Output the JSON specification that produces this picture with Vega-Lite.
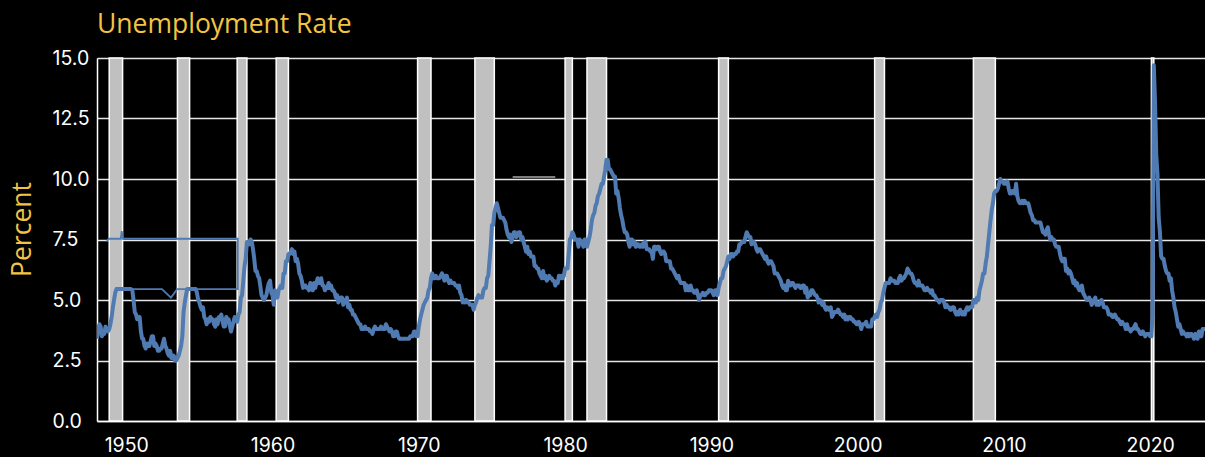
{
  "$schema": "https://vega.github.io/schema/vega-lite/v6.json",
  "width": 1108,
  "height": 363,
  "autosize": {"type": "none"},
  "padding": {"left": 97, "top": 58, "right": 0, "bottom": 36},
  "background": "#000000",
  "config": {"view": {"stroke": null}},
  "title": {"text": "Unemployment Rate", "anchor": "start", "frame": "group", "color": "#f3c443", "font": "Open Sans", "fontSize": 26.5, "fontWeight": "normal", "baseline": "alphabetic", "offset": 29, "dy": 40},
  "datasets": {
    "rec": [
      {"s": "1948-11-01", "e": "1949-10-01"},
      {"s": "1953-07-01", "e": "1954-05-01"},
      {"s": "1957-08-01", "e": "1958-04-01"},
      {"s": "1960-04-01", "e": "1961-02-01"},
      {"s": "1969-12-01", "e": "1970-11-01"},
      {"s": "1973-11-01", "e": "1975-03-01"},
      {"s": "1980-01-01", "e": "1980-07-01"},
      {"s": "1981-07-01", "e": "1982-11-01"},
      {"s": "1990-07-01", "e": "1991-03-01"},
      {"s": "2001-03-01", "e": "2001-11-01"},
      {"s": "2007-12-01", "e": "2009-06-01"},
      {"s": "2020-02-01", "e": "2020-04-01"}
    ],
    "thin": [
      {"i": 0, "d": "1948-09-10", "v": 7.42},
      {"i": 1, "d": "1948-10-15", "v": 7.53},
      {"i": 2, "d": "1949-08-15", "v": 7.53},
      {"i": 3, "d": "1949-09-10", "v": 7.85},
      {"i": 4, "d": "1949-10-05", "v": 7.53},
      {"i": 5, "d": "1957-08-15", "v": 7.53},
      {"i": 6, "d": "1957-08-16", "v": 5.45},
      {"i": 7, "d": "1953-06-25", "v": 5.45},
      {"i": 8, "d": "1953-01-20", "v": 5.1},
      {"i": 9, "d": "1952-06-10", "v": 5.45},
      {"i": 10, "d": "1949-04-01", "v": 5.45}
    ],
    "seg": [
      {"s": "1976-06-01", "e": "1979-05-01", "v": 10.08}
    ],
    "u": [
{"t":"1948-01","u":3.4},{"t":"1948-02","u":3.8},{"t":"1948-03","u":4.0},{"t":"1948-04","u":3.9},{"t":"1948-05","u":3.5},{"t":"1948-06","u":3.6},{"t":"1948-07","u":3.6},{"t":"1948-08","u":3.9},{"t":"1948-09","u":3.8},{"t":"1948-10","u":3.7},{"t":"1948-11","u":3.8},{"t":"1948-12","u":4.0},
{"t":"1949-01","u":4.3},{"t":"1949-02","u":4.7},{"t":"1949-03","u":5.0},{"t":"1949-04","u":5.3},{"t":"1949-05","u":5.45},{"t":"1949-06","u":5.45},{"t":"1949-07","u":5.45},{"t":"1949-08","u":5.45},{"t":"1949-09","u":5.45},{"t":"1949-10","u":5.45},{"t":"1949-11","u":5.45},{"t":"1949-12","u":5.45},
{"t":"1950-01","u":5.45},{"t":"1950-02","u":5.45},{"t":"1950-03","u":5.45},{"t":"1950-04","u":5.45},{"t":"1950-05","u":5.45},{"t":"1950-06","u":5.4},{"t":"1950-07","u":5.0},{"t":"1950-08","u":4.5},{"t":"1950-09","u":4.4},{"t":"1950-10","u":4.2},{"t":"1950-11","u":4.2},{"t":"1950-12","u":4.3},
{"t":"1951-01","u":3.7},{"t":"1951-02","u":3.4},{"t":"1951-03","u":3.4},{"t":"1951-04","u":3.1},{"t":"1951-05","u":3.0},{"t":"1951-06","u":3.2},{"t":"1951-07","u":3.1},{"t":"1951-08","u":3.1},{"t":"1951-09","u":3.3},{"t":"1951-10","u":3.5},{"t":"1951-11","u":3.5},{"t":"1951-12","u":3.1},
{"t":"1952-01","u":3.2},{"t":"1952-02","u":3.1},{"t":"1952-03","u":2.9},{"t":"1952-04","u":2.9},{"t":"1952-05","u":3.0},{"t":"1952-06","u":3.0},{"t":"1952-07","u":3.2},{"t":"1952-08","u":3.4},{"t":"1952-09","u":3.1},{"t":"1952-10","u":3.0},{"t":"1952-11","u":2.8},{"t":"1952-12","u":2.7},
{"t":"1953-01","u":2.9},{"t":"1953-02","u":2.6},{"t":"1953-03","u":2.6},{"t":"1953-04","u":2.7},{"t":"1953-05","u":2.5},{"t":"1953-06","u":2.5},{"t":"1953-07","u":2.6},{"t":"1953-08","u":2.7},{"t":"1953-09","u":2.9},{"t":"1953-10","u":3.1},{"t":"1953-11","u":3.5},{"t":"1953-12","u":4.5},
{"t":"1954-01","u":4.9},{"t":"1954-02","u":5.2},{"t":"1954-03","u":5.45},{"t":"1954-04","u":5.45},{"t":"1954-05","u":5.45},{"t":"1954-06","u":5.45},{"t":"1954-07","u":5.45},{"t":"1954-08","u":5.45},{"t":"1954-09","u":5.45},{"t":"1954-10","u":5.45},{"t":"1954-11","u":5.3},{"t":"1954-12","u":5.0},
{"t":"1955-01","u":4.9},{"t":"1955-02","u":4.7},{"t":"1955-03","u":4.6},{"t":"1955-04","u":4.7},{"t":"1955-05","u":4.3},{"t":"1955-06","u":4.2},{"t":"1955-07","u":4.0},{"t":"1955-08","u":4.2},{"t":"1955-09","u":4.1},{"t":"1955-10","u":4.3},{"t":"1955-11","u":4.2},{"t":"1955-12","u":4.2},
{"t":"1956-01","u":4.0},{"t":"1956-02","u":3.9},{"t":"1956-03","u":4.2},{"t":"1956-04","u":4.0},{"t":"1956-05","u":4.3},{"t":"1956-06","u":4.3},{"t":"1956-07","u":4.4},{"t":"1956-08","u":4.1},{"t":"1956-09","u":3.9},{"t":"1956-10","u":3.9},{"t":"1956-11","u":4.3},{"t":"1956-12","u":4.2},
{"t":"1957-01","u":4.2},{"t":"1957-02","u":3.9},{"t":"1957-03","u":3.7},{"t":"1957-04","u":3.9},{"t":"1957-05","u":4.1},{"t":"1957-06","u":4.3},{"t":"1957-07","u":4.2},{"t":"1957-08","u":4.1},{"t":"1957-09","u":4.4},{"t":"1957-10","u":4.5},{"t":"1957-11","u":5.1},{"t":"1957-12","u":5.2},
{"t":"1958-01","u":5.8},{"t":"1958-02","u":6.4},{"t":"1958-03","u":6.7},{"t":"1958-04","u":7.4},{"t":"1958-05","u":7.4},{"t":"1958-06","u":7.3},{"t":"1958-07","u":7.5},{"t":"1958-08","u":7.4},{"t":"1958-09","u":7.1},{"t":"1958-10","u":6.7},{"t":"1958-11","u":6.2},{"t":"1958-12","u":6.2},
{"t":"1959-01","u":6.0},{"t":"1959-02","u":5.9},{"t":"1959-03","u":5.6},{"t":"1959-04","u":5.2},{"t":"1959-05","u":5.1},{"t":"1959-06","u":5.0},{"t":"1959-07","u":5.1},{"t":"1959-08","u":5.2},{"t":"1959-09","u":5.5},{"t":"1959-10","u":5.7},{"t":"1959-11","u":5.8},{"t":"1959-12","u":5.3},
{"t":"1960-01","u":5.2},{"t":"1960-02","u":4.8},{"t":"1960-03","u":5.4},{"t":"1960-04","u":5.2},{"t":"1960-05","u":5.1},{"t":"1960-06","u":5.4},{"t":"1960-07","u":5.5},{"t":"1960-08","u":5.6},{"t":"1960-09","u":5.5},{"t":"1960-10","u":6.1},{"t":"1960-11","u":6.1},{"t":"1960-12","u":6.6},
{"t":"1961-01","u":6.6},{"t":"1961-02","u":6.9},{"t":"1961-03","u":6.9},{"t":"1961-04","u":7.0},{"t":"1961-05","u":7.1},{"t":"1961-06","u":6.9},{"t":"1961-07","u":7.0},{"t":"1961-08","u":6.6},{"t":"1961-09","u":6.7},{"t":"1961-10","u":6.5},{"t":"1961-11","u":6.1},{"t":"1961-12","u":6.0},
{"t":"1962-01","u":5.8},{"t":"1962-02","u":5.5},{"t":"1962-03","u":5.6},{"t":"1962-04","u":5.6},{"t":"1962-05","u":5.5},{"t":"1962-06","u":5.5},{"t":"1962-07","u":5.4},{"t":"1962-08","u":5.7},{"t":"1962-09","u":5.6},{"t":"1962-10","u":5.4},{"t":"1962-11","u":5.7},{"t":"1962-12","u":5.5},
{"t":"1963-01","u":5.7},{"t":"1963-02","u":5.9},{"t":"1963-03","u":5.7},{"t":"1963-04","u":5.7},{"t":"1963-05","u":5.9},{"t":"1963-06","u":5.6},{"t":"1963-07","u":5.6},{"t":"1963-08","u":5.4},{"t":"1963-09","u":5.5},{"t":"1963-10","u":5.5},{"t":"1963-11","u":5.7},{"t":"1963-12","u":5.5},
{"t":"1964-01","u":5.6},{"t":"1964-02","u":5.4},{"t":"1964-03","u":5.4},{"t":"1964-04","u":5.3},{"t":"1964-05","u":5.1},{"t":"1964-06","u":5.2},{"t":"1964-07","u":4.9},{"t":"1964-08","u":5.0},{"t":"1964-09","u":5.1},{"t":"1964-10","u":5.1},{"t":"1964-11","u":4.8},{"t":"1964-12","u":5.0},
{"t":"1965-01","u":4.9},{"t":"1965-02","u":5.1},{"t":"1965-03","u":4.7},{"t":"1965-04","u":4.8},{"t":"1965-05","u":4.6},{"t":"1965-06","u":4.6},{"t":"1965-07","u":4.4},{"t":"1965-08","u":4.4},{"t":"1965-09","u":4.3},{"t":"1965-10","u":4.2},{"t":"1965-11","u":4.1},{"t":"1965-12","u":4.0},
{"t":"1966-01","u":4.0},{"t":"1966-02","u":3.8},{"t":"1966-03","u":3.8},{"t":"1966-04","u":3.8},{"t":"1966-05","u":3.9},{"t":"1966-06","u":3.8},{"t":"1966-07","u":3.8},{"t":"1966-08","u":3.8},{"t":"1966-09","u":3.7},{"t":"1966-10","u":3.7},{"t":"1966-11","u":3.6},{"t":"1966-12","u":3.8},
{"t":"1967-01","u":3.9},{"t":"1967-02","u":3.8},{"t":"1967-03","u":3.8},{"t":"1967-04","u":3.8},{"t":"1967-05","u":3.8},{"t":"1967-06","u":3.9},{"t":"1967-07","u":3.8},{"t":"1967-08","u":3.8},{"t":"1967-09","u":3.8},{"t":"1967-10","u":4.0},{"t":"1967-11","u":3.9},{"t":"1967-12","u":3.8},
{"t":"1968-01","u":3.7},{"t":"1968-02","u":3.8},{"t":"1968-03","u":3.7},{"t":"1968-04","u":3.5},{"t":"1968-05","u":3.5},{"t":"1968-06","u":3.7},{"t":"1968-07","u":3.7},{"t":"1968-08","u":3.5},{"t":"1968-09","u":3.4},{"t":"1968-10","u":3.4},{"t":"1968-11","u":3.4},{"t":"1968-12","u":3.4},
{"t":"1969-01","u":3.4},{"t":"1969-02","u":3.4},{"t":"1969-03","u":3.4},{"t":"1969-04","u":3.4},{"t":"1969-05","u":3.4},{"t":"1969-06","u":3.5},{"t":"1969-07","u":3.5},{"t":"1969-08","u":3.5},{"t":"1969-09","u":3.7},{"t":"1969-10","u":3.7},{"t":"1969-11","u":3.5},{"t":"1969-12","u":3.5},
{"t":"1970-01","u":3.9},{"t":"1970-02","u":4.2},{"t":"1970-03","u":4.4},{"t":"1970-04","u":4.6},{"t":"1970-05","u":4.8},{"t":"1970-06","u":4.9},{"t":"1970-07","u":5.0},{"t":"1970-08","u":5.1},{"t":"1970-09","u":5.4},{"t":"1970-10","u":5.5},{"t":"1970-11","u":5.9},{"t":"1970-12","u":6.1},
{"t":"1971-01","u":5.9},{"t":"1971-02","u":5.9},{"t":"1971-03","u":6.0},{"t":"1971-04","u":5.9},{"t":"1971-05","u":5.9},{"t":"1971-06","u":5.9},{"t":"1971-07","u":6.0},{"t":"1971-08","u":6.1},{"t":"1971-09","u":6.0},{"t":"1971-10","u":5.8},{"t":"1971-11","u":6.0},{"t":"1971-12","u":6.0},
{"t":"1972-01","u":5.8},{"t":"1972-02","u":5.7},{"t":"1972-03","u":5.8},{"t":"1972-04","u":5.7},{"t":"1972-05","u":5.7},{"t":"1972-06","u":5.7},{"t":"1972-07","u":5.6},{"t":"1972-08","u":5.6},{"t":"1972-09","u":5.5},{"t":"1972-10","u":5.6},{"t":"1972-11","u":5.3},{"t":"1972-12","u":5.2},
{"t":"1973-01","u":4.9},{"t":"1973-02","u":5.0},{"t":"1973-03","u":4.9},{"t":"1973-04","u":5.0},{"t":"1973-05","u":4.9},{"t":"1973-06","u":4.9},{"t":"1973-07","u":4.8},{"t":"1973-08","u":4.8},{"t":"1973-09","u":4.8},{"t":"1973-10","u":4.6},{"t":"1973-11","u":4.8},{"t":"1973-12","u":4.9},
{"t":"1974-01","u":5.1},{"t":"1974-02","u":5.2},{"t":"1974-03","u":5.1},{"t":"1974-04","u":5.1},{"t":"1974-05","u":5.1},{"t":"1974-06","u":5.4},{"t":"1974-07","u":5.5},{"t":"1974-08","u":5.5},{"t":"1974-09","u":5.9},{"t":"1974-10","u":6.0},{"t":"1974-11","u":6.6},{"t":"1974-12","u":7.2},
{"t":"1975-01","u":8.1},{"t":"1975-02","u":8.1},{"t":"1975-03","u":8.6},{"t":"1975-04","u":8.8},{"t":"1975-05","u":9.0},{"t":"1975-06","u":8.8},{"t":"1975-07","u":8.6},{"t":"1975-08","u":8.4},{"t":"1975-09","u":8.4},{"t":"1975-10","u":8.4},{"t":"1975-11","u":8.3},{"t":"1975-12","u":8.2},
{"t":"1976-01","u":7.9},{"t":"1976-02","u":7.7},{"t":"1976-03","u":7.6},{"t":"1976-04","u":7.7},{"t":"1976-05","u":7.4},{"t":"1976-06","u":7.6},{"t":"1976-07","u":7.8},{"t":"1976-08","u":7.8},{"t":"1976-09","u":7.6},{"t":"1976-10","u":7.7},{"t":"1976-11","u":7.8},{"t":"1976-12","u":7.8},
{"t":"1977-01","u":7.5},{"t":"1977-02","u":7.6},{"t":"1977-03","u":7.4},{"t":"1977-04","u":7.2},{"t":"1977-05","u":7.0},{"t":"1977-06","u":7.2},{"t":"1977-07","u":6.9},{"t":"1977-08","u":7.0},{"t":"1977-09","u":6.8},{"t":"1977-10","u":6.8},{"t":"1977-11","u":6.8},{"t":"1977-12","u":6.4},
{"t":"1978-01","u":6.4},{"t":"1978-02","u":6.3},{"t":"1978-03","u":6.3},{"t":"1978-04","u":6.1},{"t":"1978-05","u":6.0},{"t":"1978-06","u":5.9},{"t":"1978-07","u":6.2},{"t":"1978-08","u":5.9},{"t":"1978-09","u":6.0},{"t":"1978-10","u":5.8},{"t":"1978-11","u":5.9},{"t":"1978-12","u":6.0},
{"t":"1979-01","u":5.9},{"t":"1979-02","u":5.9},{"t":"1979-03","u":5.8},{"t":"1979-04","u":5.8},{"t":"1979-05","u":5.6},{"t":"1979-06","u":5.7},{"t":"1979-07","u":5.7},{"t":"1979-08","u":6.0},{"t":"1979-09","u":5.9},{"t":"1979-10","u":6.0},{"t":"1979-11","u":5.9},{"t":"1979-12","u":6.0},
{"t":"1980-01","u":6.3},{"t":"1980-02","u":6.3},{"t":"1980-03","u":6.3},{"t":"1980-04","u":6.9},{"t":"1980-05","u":7.5},{"t":"1980-06","u":7.6},{"t":"1980-07","u":7.8},{"t":"1980-08","u":7.7},{"t":"1980-09","u":7.5},{"t":"1980-10","u":7.5},{"t":"1980-11","u":7.5},{"t":"1980-12","u":7.2},
{"t":"1981-01","u":7.5},{"t":"1981-02","u":7.4},{"t":"1981-03","u":7.4},{"t":"1981-04","u":7.2},{"t":"1981-05","u":7.5},{"t":"1981-06","u":7.5},{"t":"1981-07","u":7.2},{"t":"1981-08","u":7.4},{"t":"1981-09","u":7.6},{"t":"1981-10","u":7.9},{"t":"1981-11","u":8.3},{"t":"1981-12","u":8.5},
{"t":"1982-01","u":8.6},{"t":"1982-02","u":8.9},{"t":"1982-03","u":9.0},{"t":"1982-04","u":9.3},{"t":"1982-05","u":9.4},{"t":"1982-06","u":9.6},{"t":"1982-07","u":9.8},{"t":"1982-08","u":9.8},{"t":"1982-09","u":10.1},{"t":"1982-10","u":10.4},{"t":"1982-11","u":10.8},{"t":"1982-12","u":10.8},
{"t":"1983-01","u":10.4},{"t":"1983-02","u":10.4},{"t":"1983-03","u":10.3},{"t":"1983-04","u":10.2},{"t":"1983-05","u":10.1},{"t":"1983-06","u":10.1},{"t":"1983-07","u":9.4},{"t":"1983-08","u":9.5},{"t":"1983-09","u":9.2},{"t":"1983-10","u":8.8},{"t":"1983-11","u":8.5},{"t":"1983-12","u":8.3},
{"t":"1984-01","u":8.0},{"t":"1984-02","u":7.8},{"t":"1984-03","u":7.8},{"t":"1984-04","u":7.7},{"t":"1984-05","u":7.4},{"t":"1984-06","u":7.2},{"t":"1984-07","u":7.5},{"t":"1984-08","u":7.5},{"t":"1984-09","u":7.3},{"t":"1984-10","u":7.4},{"t":"1984-11","u":7.2},{"t":"1984-12","u":7.3},
{"t":"1985-01","u":7.3},{"t":"1985-02","u":7.2},{"t":"1985-03","u":7.2},{"t":"1985-04","u":7.3},{"t":"1985-05","u":7.2},{"t":"1985-06","u":7.4},{"t":"1985-07","u":7.4},{"t":"1985-08","u":7.1},{"t":"1985-09","u":7.1},{"t":"1985-10","u":7.1},{"t":"1985-11","u":7.0},{"t":"1985-12","u":7.0},
{"t":"1986-01","u":6.7},{"t":"1986-02","u":7.2},{"t":"1986-03","u":7.2},{"t":"1986-04","u":7.1},{"t":"1986-05","u":7.2},{"t":"1986-06","u":7.2},{"t":"1986-07","u":7.0},{"t":"1986-08","u":6.9},{"t":"1986-09","u":7.0},{"t":"1986-10","u":7.0},{"t":"1986-11","u":6.9},{"t":"1986-12","u":6.6},
{"t":"1987-01","u":6.6},{"t":"1987-02","u":6.6},{"t":"1987-03","u":6.6},{"t":"1987-04","u":6.3},{"t":"1987-05","u":6.3},{"t":"1987-06","u":6.2},{"t":"1987-07","u":6.1},{"t":"1987-08","u":6.0},{"t":"1987-09","u":5.9},{"t":"1987-10","u":6.0},{"t":"1987-11","u":5.8},{"t":"1987-12","u":5.7},
{"t":"1988-01","u":5.7},{"t":"1988-02","u":5.7},{"t":"1988-03","u":5.7},{"t":"1988-04","u":5.4},{"t":"1988-05","u":5.6},{"t":"1988-06","u":5.4},{"t":"1988-07","u":5.4},{"t":"1988-08","u":5.6},{"t":"1988-09","u":5.4},{"t":"1988-10","u":5.4},{"t":"1988-11","u":5.3},{"t":"1988-12","u":5.3},
{"t":"1989-01","u":5.4},{"t":"1989-02","u":5.2},{"t":"1989-03","u":5.0},{"t":"1989-04","u":5.2},{"t":"1989-05","u":5.2},{"t":"1989-06","u":5.3},{"t":"1989-07","u":5.2},{"t":"1989-08","u":5.2},{"t":"1989-09","u":5.3},{"t":"1989-10","u":5.3},{"t":"1989-11","u":5.4},{"t":"1989-12","u":5.4},
{"t":"1990-01","u":5.4},{"t":"1990-02","u":5.3},{"t":"1990-03","u":5.2},{"t":"1990-04","u":5.4},{"t":"1990-05","u":5.4},{"t":"1990-06","u":5.2},{"t":"1990-07","u":5.5},{"t":"1990-08","u":5.7},{"t":"1990-09","u":5.9},{"t":"1990-10","u":5.9},{"t":"1990-11","u":6.2},{"t":"1990-12","u":6.3},
{"t":"1991-01","u":6.4},{"t":"1991-02","u":6.6},{"t":"1991-03","u":6.8},{"t":"1991-04","u":6.7},{"t":"1991-05","u":6.9},{"t":"1991-06","u":6.9},{"t":"1991-07","u":6.8},{"t":"1991-08","u":6.9},{"t":"1991-09","u":6.9},{"t":"1991-10","u":7.0},{"t":"1991-11","u":7.0},{"t":"1991-12","u":7.3},
{"t":"1992-01","u":7.3},{"t":"1992-02","u":7.4},{"t":"1992-03","u":7.4},{"t":"1992-04","u":7.4},{"t":"1992-05","u":7.6},{"t":"1992-06","u":7.8},{"t":"1992-07","u":7.7},{"t":"1992-08","u":7.6},{"t":"1992-09","u":7.6},{"t":"1992-10","u":7.3},{"t":"1992-11","u":7.4},{"t":"1992-12","u":7.4},
{"t":"1993-01","u":7.3},{"t":"1993-02","u":7.1},{"t":"1993-03","u":7.0},{"t":"1993-04","u":7.1},{"t":"1993-05","u":7.1},{"t":"1993-06","u":7.0},{"t":"1993-07","u":6.9},{"t":"1993-08","u":6.8},{"t":"1993-09","u":6.7},{"t":"1993-10","u":6.8},{"t":"1993-11","u":6.6},{"t":"1993-12","u":6.5},
{"t":"1994-01","u":6.6},{"t":"1994-02","u":6.6},{"t":"1994-03","u":6.5},{"t":"1994-04","u":6.4},{"t":"1994-05","u":6.1},{"t":"1994-06","u":6.1},{"t":"1994-07","u":6.1},{"t":"1994-08","u":6.0},{"t":"1994-09","u":5.9},{"t":"1994-10","u":5.8},{"t":"1994-11","u":5.6},{"t":"1994-12","u":5.5},
{"t":"1995-01","u":5.6},{"t":"1995-02","u":5.4},{"t":"1995-03","u":5.4},{"t":"1995-04","u":5.8},{"t":"1995-05","u":5.6},{"t":"1995-06","u":5.6},{"t":"1995-07","u":5.7},{"t":"1995-08","u":5.7},{"t":"1995-09","u":5.6},{"t":"1995-10","u":5.5},{"t":"1995-11","u":5.6},{"t":"1995-12","u":5.6},
{"t":"1996-01","u":5.6},{"t":"1996-02","u":5.5},{"t":"1996-03","u":5.5},{"t":"1996-04","u":5.6},{"t":"1996-05","u":5.6},{"t":"1996-06","u":5.3},{"t":"1996-07","u":5.5},{"t":"1996-08","u":5.1},{"t":"1996-09","u":5.2},{"t":"1996-10","u":5.2},{"t":"1996-11","u":5.4},{"t":"1996-12","u":5.4},
{"t":"1997-01","u":5.3},{"t":"1997-02","u":5.2},{"t":"1997-03","u":5.2},{"t":"1997-04","u":5.1},{"t":"1997-05","u":4.9},{"t":"1997-06","u":5.0},{"t":"1997-07","u":4.9},{"t":"1997-08","u":4.8},{"t":"1997-09","u":4.9},{"t":"1997-10","u":4.7},{"t":"1997-11","u":4.6},{"t":"1997-12","u":4.7},
{"t":"1998-01","u":4.6},{"t":"1998-02","u":4.6},{"t":"1998-03","u":4.7},{"t":"1998-04","u":4.3},{"t":"1998-05","u":4.4},{"t":"1998-06","u":4.5},{"t":"1998-07","u":4.5},{"t":"1998-08","u":4.5},{"t":"1998-09","u":4.6},{"t":"1998-10","u":4.5},{"t":"1998-11","u":4.4},{"t":"1998-12","u":4.4},
{"t":"1999-01","u":4.3},{"t":"1999-02","u":4.4},{"t":"1999-03","u":4.2},{"t":"1999-04","u":4.3},{"t":"1999-05","u":4.2},{"t":"1999-06","u":4.3},{"t":"1999-07","u":4.3},{"t":"1999-08","u":4.2},{"t":"1999-09","u":4.2},{"t":"1999-10","u":4.1},{"t":"1999-11","u":4.1},{"t":"1999-12","u":4.0},
{"t":"2000-01","u":4.0},{"t":"2000-02","u":4.1},{"t":"2000-03","u":4.0},{"t":"2000-04","u":3.8},{"t":"2000-05","u":4.0},{"t":"2000-06","u":4.0},{"t":"2000-07","u":4.0},{"t":"2000-08","u":4.1},{"t":"2000-09","u":3.9},{"t":"2000-10","u":3.9},{"t":"2000-11","u":3.9},{"t":"2000-12","u":3.9},
{"t":"2001-01","u":4.2},{"t":"2001-02","u":4.2},{"t":"2001-03","u":4.3},{"t":"2001-04","u":4.4},{"t":"2001-05","u":4.3},{"t":"2001-06","u":4.5},{"t":"2001-07","u":4.6},{"t":"2001-08","u":4.9},{"t":"2001-09","u":5.0},{"t":"2001-10","u":5.3},{"t":"2001-11","u":5.5},{"t":"2001-12","u":5.7},
{"t":"2002-01","u":5.7},{"t":"2002-02","u":5.7},{"t":"2002-03","u":5.7},{"t":"2002-04","u":5.9},{"t":"2002-05","u":5.8},{"t":"2002-06","u":5.8},{"t":"2002-07","u":5.8},{"t":"2002-08","u":5.7},{"t":"2002-09","u":5.7},{"t":"2002-10","u":5.7},{"t":"2002-11","u":5.9},{"t":"2002-12","u":6.0},
{"t":"2003-01","u":5.8},{"t":"2003-02","u":5.9},{"t":"2003-03","u":5.9},{"t":"2003-04","u":6.0},{"t":"2003-05","u":6.1},{"t":"2003-06","u":6.3},{"t":"2003-07","u":6.2},{"t":"2003-08","u":6.1},{"t":"2003-09","u":6.1},{"t":"2003-10","u":6.0},{"t":"2003-11","u":5.8},{"t":"2003-12","u":5.7},
{"t":"2004-01","u":5.7},{"t":"2004-02","u":5.6},{"t":"2004-03","u":5.8},{"t":"2004-04","u":5.6},{"t":"2004-05","u":5.6},{"t":"2004-06","u":5.6},{"t":"2004-07","u":5.5},{"t":"2004-08","u":5.4},{"t":"2004-09","u":5.4},{"t":"2004-10","u":5.5},{"t":"2004-11","u":5.4},{"t":"2004-12","u":5.4},
{"t":"2005-01","u":5.3},{"t":"2005-02","u":5.4},{"t":"2005-03","u":5.2},{"t":"2005-04","u":5.2},{"t":"2005-05","u":5.1},{"t":"2005-06","u":5.0},{"t":"2005-07","u":5.0},{"t":"2005-08","u":4.9},{"t":"2005-09","u":5.0},{"t":"2005-10","u":5.0},{"t":"2005-11","u":5.0},{"t":"2005-12","u":4.9},
{"t":"2006-01","u":4.7},{"t":"2006-02","u":4.8},{"t":"2006-03","u":4.7},{"t":"2006-04","u":4.7},{"t":"2006-05","u":4.6},{"t":"2006-06","u":4.6},{"t":"2006-07","u":4.7},{"t":"2006-08","u":4.7},{"t":"2006-09","u":4.5},{"t":"2006-10","u":4.4},{"t":"2006-11","u":4.5},{"t":"2006-12","u":4.4},
{"t":"2007-01","u":4.6},{"t":"2007-02","u":4.5},{"t":"2007-03","u":4.4},{"t":"2007-04","u":4.5},{"t":"2007-05","u":4.4},{"t":"2007-06","u":4.6},{"t":"2007-07","u":4.7},{"t":"2007-08","u":4.6},{"t":"2007-09","u":4.7},{"t":"2007-10","u":4.7},{"t":"2007-11","u":4.7},{"t":"2007-12","u":5.0},
{"t":"2008-01","u":5.0},{"t":"2008-02","u":4.9},{"t":"2008-03","u":5.1},{"t":"2008-04","u":5.0},{"t":"2008-05","u":5.4},{"t":"2008-06","u":5.6},{"t":"2008-07","u":5.8},{"t":"2008-08","u":6.1},{"t":"2008-09","u":6.1},{"t":"2008-10","u":6.5},{"t":"2008-11","u":6.8},{"t":"2008-12","u":7.3},
{"t":"2009-01","u":7.8},{"t":"2009-02","u":8.3},{"t":"2009-03","u":8.7},{"t":"2009-04","u":9.0},{"t":"2009-05","u":9.4},{"t":"2009-06","u":9.5},{"t":"2009-07","u":9.5},{"t":"2009-08","u":9.6},{"t":"2009-09","u":9.8},{"t":"2009-10","u":10.0},{"t":"2009-11","u":9.9},{"t":"2009-12","u":9.9},
{"t":"2010-01","u":9.8},{"t":"2010-02","u":9.8},{"t":"2010-03","u":9.9},{"t":"2010-04","u":9.9},{"t":"2010-05","u":9.6},{"t":"2010-06","u":9.4},{"t":"2010-07","u":9.4},{"t":"2010-08","u":9.5},{"t":"2010-09","u":9.5},{"t":"2010-10","u":9.4},{"t":"2010-11","u":9.8},{"t":"2010-12","u":9.3},
{"t":"2011-01","u":9.1},{"t":"2011-02","u":9.0},{"t":"2011-03","u":9.0},{"t":"2011-04","u":9.1},{"t":"2011-05","u":9.0},{"t":"2011-06","u":9.1},{"t":"2011-07","u":9.0},{"t":"2011-08","u":9.0},{"t":"2011-09","u":9.0},{"t":"2011-10","u":8.8},{"t":"2011-11","u":8.6},{"t":"2011-12","u":8.5},
{"t":"2012-01","u":8.3},{"t":"2012-02","u":8.3},{"t":"2012-03","u":8.2},{"t":"2012-04","u":8.2},{"t":"2012-05","u":8.2},{"t":"2012-06","u":8.2},{"t":"2012-07","u":8.2},{"t":"2012-08","u":8.0},{"t":"2012-09","u":7.8},{"t":"2012-10","u":7.8},{"t":"2012-11","u":7.7},{"t":"2012-12","u":7.9},
{"t":"2013-01","u":8.0},{"t":"2013-02","u":7.7},{"t":"2013-03","u":7.5},{"t":"2013-04","u":7.6},{"t":"2013-05","u":7.5},{"t":"2013-06","u":7.5},{"t":"2013-07","u":7.3},{"t":"2013-08","u":7.2},{"t":"2013-09","u":7.2},{"t":"2013-10","u":7.2},{"t":"2013-11","u":6.9},{"t":"2013-12","u":6.7},
{"t":"2014-01","u":6.6},{"t":"2014-02","u":6.7},{"t":"2014-03","u":6.7},{"t":"2014-04","u":6.2},{"t":"2014-05","u":6.3},{"t":"2014-06","u":6.1},{"t":"2014-07","u":6.2},{"t":"2014-08","u":6.1},{"t":"2014-09","u":5.9},{"t":"2014-10","u":5.7},{"t":"2014-11","u":5.8},{"t":"2014-12","u":5.6},
{"t":"2015-01","u":5.7},{"t":"2015-02","u":5.5},{"t":"2015-03","u":5.4},{"t":"2015-04","u":5.4},{"t":"2015-05","u":5.6},{"t":"2015-06","u":5.3},{"t":"2015-07","u":5.2},{"t":"2015-08","u":5.1},{"t":"2015-09","u":5.0},{"t":"2015-10","u":5.0},{"t":"2015-11","u":5.1},{"t":"2015-12","u":5.0},
{"t":"2016-01","u":4.8},{"t":"2016-02","u":4.9},{"t":"2016-03","u":5.0},{"t":"2016-04","u":5.1},{"t":"2016-05","u":4.8},{"t":"2016-06","u":4.9},{"t":"2016-07","u":4.8},{"t":"2016-08","u":4.9},{"t":"2016-09","u":5.0},{"t":"2016-10","u":4.9},{"t":"2016-11","u":4.7},{"t":"2016-12","u":4.7},
{"t":"2017-01","u":4.7},{"t":"2017-02","u":4.6},{"t":"2017-03","u":4.4},{"t":"2017-04","u":4.4},{"t":"2017-05","u":4.4},{"t":"2017-06","u":4.3},{"t":"2017-07","u":4.3},{"t":"2017-08","u":4.4},{"t":"2017-09","u":4.3},{"t":"2017-10","u":4.2},{"t":"2017-11","u":4.2},{"t":"2017-12","u":4.1},
{"t":"2018-01","u":4.0},{"t":"2018-02","u":4.1},{"t":"2018-03","u":4.0},{"t":"2018-04","u":4.0},{"t":"2018-05","u":3.8},{"t":"2018-06","u":4.0},{"t":"2018-07","u":3.8},{"t":"2018-08","u":3.8},{"t":"2018-09","u":3.7},{"t":"2018-10","u":3.8},{"t":"2018-11","u":3.8},{"t":"2018-12","u":3.9},
{"t":"2019-01","u":4.0},{"t":"2019-02","u":3.8},{"t":"2019-03","u":3.8},{"t":"2019-04","u":3.7},{"t":"2019-05","u":3.6},{"t":"2019-06","u":3.6},{"t":"2019-07","u":3.7},{"t":"2019-08","u":3.6},{"t":"2019-09","u":3.5},{"t":"2019-10","u":3.6},{"t":"2019-11","u":3.6},{"t":"2019-12","u":3.6},
{"t":"2020-01","u":3.5},{"t":"2020-02","u":3.5},{"t":"2020-03","u":4.4},{"t":"2020-04","u":14.7},{"t":"2020-05","u":13.2},{"t":"2020-06","u":11.0},{"t":"2020-07","u":10.2},{"t":"2020-08","u":8.4},{"t":"2020-09","u":7.8},{"t":"2020-10","u":6.8},{"t":"2020-11","u":6.7},{"t":"2020-12","u":6.7},
{"t":"2021-01","u":6.4},{"t":"2021-02","u":6.2},{"t":"2021-03","u":6.1},{"t":"2021-04","u":6.1},{"t":"2021-05","u":5.8},{"t":"2021-06","u":5.9},{"t":"2021-07","u":5.4},{"t":"2021-08","u":5.1},{"t":"2021-09","u":4.7},{"t":"2021-10","u":4.5},{"t":"2021-11","u":4.2},{"t":"2021-12","u":3.9},
{"t":"2022-01","u":4.0},{"t":"2022-02","u":3.8},{"t":"2022-03","u":3.6},{"t":"2022-04","u":3.7},{"t":"2022-05","u":3.6},{"t":"2022-06","u":3.6},{"t":"2022-07","u":3.5},{"t":"2022-08","u":3.6},{"t":"2022-09","u":3.5},{"t":"2022-10","u":3.6},{"t":"2022-11","u":3.6},{"t":"2022-12","u":3.5},
{"t":"2023-01","u":3.4},{"t":"2023-02","u":3.6},{"t":"2023-03","u":3.5},{"t":"2023-04","u":3.4},{"t":"2023-05","u":3.7},{"t":"2023-06","u":3.6},{"t":"2023-07","u":3.5},{"t":"2023-08","u":3.8},{"t":"2023-09","u":3.8},{"t":"2023-10","u":3.8}
    ]
  },
  "layer": [
    {
      "data": {"name": "rec"},
      "mark": {"type": "rect", "fill": "#c0c0c0", "stroke": "#ffffff", "strokeWidth": 1.5},
      "encoding": {
        "x": {"field": "s", "type": "temporal", "scale": {"type": "utc", "domain": ["1948-01-01", "2023-10-01"]},
          "axis": {"format": "%Y", "tickCount": {"interval": "year", "step": 10}, "title": null, "grid": false, "ticks": false, "tickSize": 0, "labelPadding": 15, "labelColor": "#ffffff", "labelFont": "Inter", "labelFontSize": 19.5, "labelFlush": false, "labelOverlap": false, "domain": true, "domainColor": "#ffffff", "domainWidth": 1.5}},
        "x2": {"field": "e"}
      }
    },
    {
      "data": {"name": "thin"},
      "mark": {"type": "line", "color": "#4f7ab2", "strokeWidth": 1.8, "clip": true},
      "encoding": {
        "x": {"field": "d", "type": "temporal", "scale": {"type": "utc"}},
        "y": {"field": "v", "type": "quantitative"},
        "order": {"field": "i", "type": "quantitative"}
      }
    },
    {
      "data": {"name": "seg"},
      "mark": {"type": "rule", "color": "#aaaaaa", "strokeWidth": 1.5},
      "encoding": {
        "x": {"field": "s", "type": "temporal", "scale": {"type": "utc"}},
        "x2": {"field": "e"},
        "y": {"field": "v", "type": "quantitative"}
      }
    },
    {
      "data": {"name": "u"},
      "mark": {"type": "line", "color": "#4f7ab2", "strokeWidth": 4, "strokeJoin": "round", "clip": true},
      "encoding": {
        "x": {"field": "t", "type": "temporal", "scale": {"type": "utc"}},
        "y": {"field": "u", "type": "quantitative",
          "scale": {"domain": [0, 15], "nice": false, "zero": true},
          "axis": {"values": [0, 2.5, 5, 7.5, 10, 12.5, 15], "format": ".1f", "grid": true, "gridColor": "#e6e6e6", "gridWidth": 1.5, "ticks": false, "tickSize": 0, "labelPadding": 45, "labelAlign": "left", "labelColor": "#ffffff", "labelFont": "Inter", "labelFontSize": 19.5, "domain": true, "domainColor": "#ffffff", "domainWidth": 1.5,
            "title": "Percent", "titleColor": "#f3c443", "titleFont": "Open Sans", "titleFontSize": 26.5, "titleFontWeight": "normal", "titleAngle": -90, "titleAlign": "center", "titleBaseline": "middle", "titleX": -75, "titleY": 171}}
      }
    }
  ]
}
